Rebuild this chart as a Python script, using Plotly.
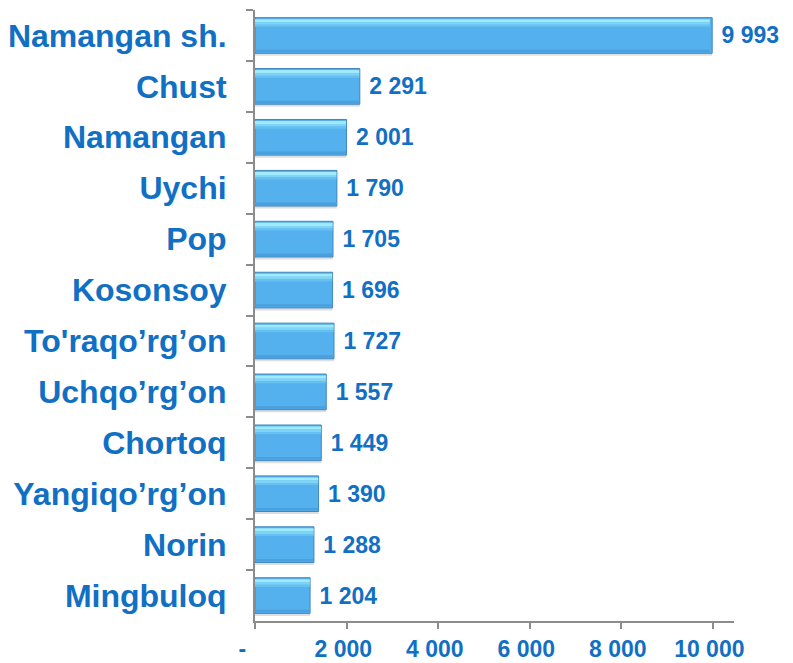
"""Horizontal bar chart: Namangan districts."""

import plotly.graph_objects as go

districts = ['Namangan sh.', 'Chust', 'Namangan', 'Uychi', 'Pop', 'Kosonsoy',
             "To'raqo’rg’on", 'Uchqo’rg’on', 'Chortoq', 'Yangiqo’rg’on',
             'Norin', 'Mingbuloq']
values = [9993, 2291, 2001, 1790, 1705, 1696, 1727, 1557, 1449, 1390, 1288, 1204]

tick_vals = [0, 2000, 4000, 6000, 8000, 10000]
tick_text = ['-\u00a0\u00a0\u00a0\u00a0', '2 000\u00a0', '4 000\u00a0', '6 000\u00a0',
             '8 000\u00a0', '10 000\u00a0']


def fmt(v):
    return f'{v:,}'.replace(',', ' ')


BLUE_TEXT = '#1170C4'
FONT = 'Liberation Sans, Arial, sans-serif'
BAR_W = 0.7

fig = go.Figure()

# soft drop shadow under each bar
fig.add_trace(go.Bar(
    y=districts, x=values, orientation='h',
    width=BAR_W, offset=-BAR_W / 2 + 0.05,
    marker=dict(color='rgba(0,0,0,0.13)', line=dict(width=0)),
    hoverinfo='skip', showlegend=False
))

# main bar body
fig.add_trace(go.Bar(
    y=districts, x=values, orientation='h',
    width=BAR_W, offset=-BAR_W / 2,
    marker=dict(color='#55B1EE', line=dict(color='#3F86C0', width=1)),
    text=['\u00a0' + fmt(v) for v in values], textposition='outside',
    textfont=dict(family=FONT, size=23, color=BLUE_TEXT, weight='bold'),
    cliponaxis=False, showlegend=False
))

# lighter bevel strips near the top of the bar
for off, w, col in [(0.03, 0.06, '#9FEAFB'), (0.09, 0.05, '#80D4F6'),
                    (0.14, 0.04, '#66C0F1')]:
    fig.add_trace(go.Bar(
        y=districts, x=[v * 0.995 for v in values], orientation='h',
        width=w, offset=-BAR_W / 2 + off,
        marker=dict(color=col, line=dict(width=0)),
        hoverinfo='skip', showlegend=False
    ))

# darker strip at the bottom edge
fig.add_trace(go.Bar(
    y=districts, x=[v * 0.995 for v in values], orientation='h',
    width=0.05, offset=BAR_W / 2 - 0.07,
    marker=dict(color='#4A9FDD', line=dict(width=0)),
    hoverinfo='skip', showlegend=False
))

# page body has an 8px margin, so the figure is sized to fit the window
fig.update_layout(
    width=785, height=655,
    margin=dict(l=247, r=59, t=2, b=42),
    barmode='overlay',
    plot_bgcolor='white', paper_bgcolor='white',
    font=dict(family=FONT, color=BLUE_TEXT),
    showlegend=False
)

fig.update_xaxes(
    range=[0, 10470], automargin=False,
    tickvals=tick_vals, ticktext=tick_text,
    tickfont=dict(family=FONT, size=23, color=BLUE_TEXT, weight='bold'),
    showgrid=False, zeroline=False,
    showline=True, linecolor='#8C8C8C', linewidth=2,
    ticks='outside', ticklen=6, tickcolor='#8C8C8C', tickwidth=2,
    ticklabelstandoff=0,
)

fig.update_yaxes(
    categoryorder='array', categoryarray=districts,
    autorange='reversed', automargin=False,
    tickfont=dict(family=FONT, size=32, color=BLUE_TEXT, weight='bold'),
    showgrid=False, zeroline=False,
    showline=True, linecolor='#8C8C8C', linewidth=2,
    ticks='outside', ticklen=7, tickcolor='#8C8C8C', tickwidth=2,
    tickson='boundaries', ticklabelstandoff=20,
)

fig.write_html("out.html")
